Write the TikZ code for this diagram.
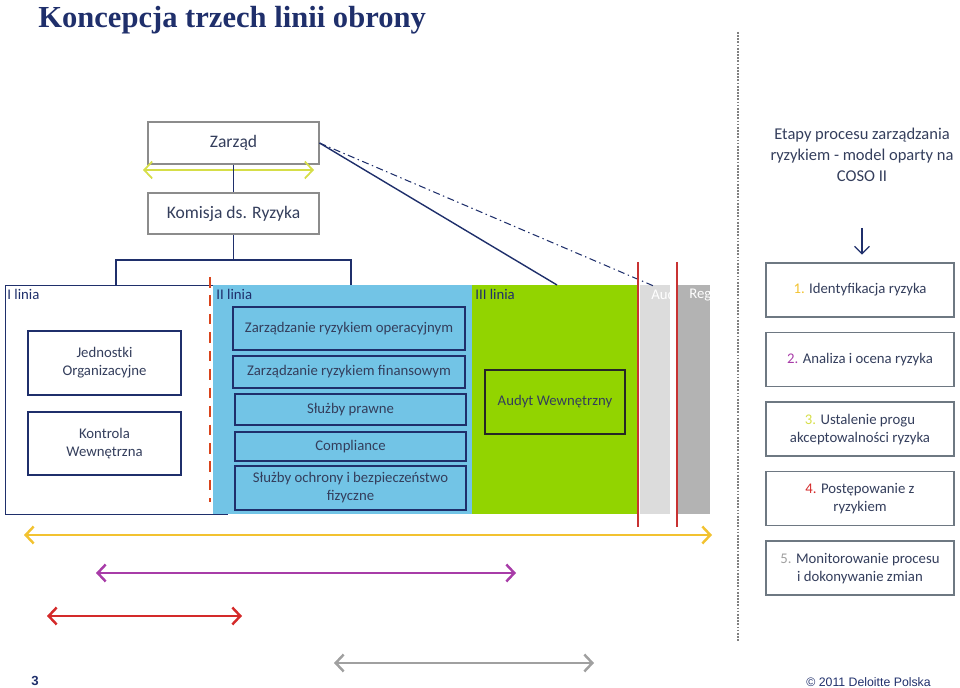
\documentclass[tikz,border=0pt]{standalone}
\usepackage{fontspec}
\setmainfont{Carlito}
\newfontfamily\titlefont{Liberation Serif}
\newfontfamily\footfont{Liberation Sans}
\usetikzlibrary{arrows.meta,positioning}
\definecolor{navy}{HTML}{1F2F6B}
\definecolor{ink}{HTML}{343E5C}
\definecolor{boxgray}{HTML}{8C8C8C}
\definecolor{stagegray}{HTML}{6E7882}
\definecolor{lineblue}{HTML}{72C4E6}
\definecolor{linegreen}{HTML}{92D400}
\definecolor{paleg}{HTML}{DCDCDC}
\definecolor{darkg}{HTML}{B3B3B3}
\definecolor{cutred}{HTML}{C83232}
\definecolor{dashred}{HTML}{D9441C}
\definecolor{cyel}{HTML}{F2C230}
\definecolor{cmag}{HTML}{A83CA8}
\definecolor{cred}{HTML}{D42A2A}
\definecolor{cgray}{HTML}{A0A0A0}
\definecolor{clime}{HTML}{D6DE48}

\begin{document}
\begin{tikzpicture}[
  x=0.02cm, y=-0.02cm,
  font=\fontsize{8.4}{10.2}\selectfont, text=ink,
  node distance=2.8mm,
  box/.style={draw=navy, line width=1.1pt, align=center, inner sep=1pt},
  grbox/.style={draw=boxgray, fill=white, line width=0.6pt, align=center,
                minimum width=3.42cm, inner sep=1pt},
  stage/.style={draw=stagegray, line width=0.9pt, minimum width=3.76cm,
                minimum height=1.08cm, align=center, inner sep=1pt},
  band/.style={anchor=north west, inner sep=0pt, minimum height=4.58cm},
  lbl/.style={anchor=north west, inner sep=0pt, text=navy},
  link/.style={draw=navy, line width=0.8pt},
  span/.style={line width=1.4pt,
               {Straight Barb[length=1.6mm,width=3.4mm]}-{Straight Barb[length=1.6mm,width=3.4mm]}}
]
  \useasboundingbox (0,0) rectangle (960,688);

  \node[anchor=base west, inner sep=0pt, text=navy,
        font=\titlefont\bfseries\fontsize{17.4}{20}\selectfont] (title) at (38,28)
    {Koncepcja trzech linii obrony};

  \node[grbox, minimum height=0.84cm, font=\fontsize{10}{12}\selectfont] (board) at (233.5,143) {Zarząd};
  \node[grbox, minimum height=0.82cm, font=\fontsize{10}{12}\selectfont] (committee) at (233.5,213.5) {Komisja ds. Ryzyka};
  \coordinate (boardL) at (143,170);
  \coordinate (boardR) at (314,170);
  \draw[span, draw=clime, line width=1pt] (boardL) -- (boardR);
  \draw[link] (board.south) -- (committee.north);

  \node[band, draw=navy, line width=0.8pt, fill=white, minimum width=4.44cm] (first) at (5,285) {};
  \node[band, fill=lineblue, minimum width=5.18cm] (second) at (213,285) {};
  \node[band, fill=linegreen, minimum width=3.32cm] (third) at (472,285) {};
  \node[band, fill=paleg, minimum width=0.6cm] (ext) at (640,285) {};
  \node[band, fill=darkg, minimum width=0.66cm] (reg) at (677,285) {};

  \coordinate (fork) at (233.5,260);
  \coordinate (forkL) at (116,285);
  \coordinate (forkR) at (351,285);
  \draw[link] (committee.south) -- (fork) -| (forkL);
  \draw[link] (fork) -| (forkR);

  \coordinate (auditTop) at (557,285);
  \coordinate (extTop) at (656,287);
  \draw[link] (board.east) -- (auditTop);
  \draw[link, line width=0.6pt, dash pattern=on 4pt off 2pt on 0.8pt off 2pt] (board.east) -- (extTop);

  \node[lbl] (l1) at (7,289) {I linia};
  \node[lbl] (l2) at (216,289) {II linia};
  \node[lbl] (l3) at (475,289) {III linia};
  \node[lbl, text=white] (l4) at (651,289) {Aud};
  \node[lbl, text=white] (l5) at (689,289) {Reg};

  \node[box, minimum width=3.06cm, minimum height=1.28cm] (units) at (104.5,363) {Jednostki\\Organizacyjne};
  \node[box, minimum width=3.06cm, minimum height=1.26cm] (control) at (104.5,443.5) {Kontrola\\Wewnętrzna};

  \node[box, minimum width=4.64cm, minimum height=0.86cm] (oprisk) at (349,328.5) {Zarządzanie ryzykiem operacyjnym};
  \node[box, minimum width=4.64cm, minimum height=0.64cm] (finrisk) at (349,372) {Zarządzanie ryzykiem finansowym};
  \node[box, minimum width=4.62cm, minimum height=0.62cm] (legal) at (350.5,409.5) {Służby prawne};
  \node[box, minimum width=4.62cm, minimum height=0.58cm] (compl) at (350.5,446.5) {Compliance};
  \node[box, minimum width=4.62cm, minimum height=0.88cm] (security) at (350.5,488) {Służby ochrony i bezpieczeństwo\\fizyczne};

  \node[box, draw=black!85, minimum width=2.8cm, minimum height=1.28cm] (audit) at (555,402) {Audyt Wewnętrzny};

  \coordinate (dashT) at (210,277);
  \coordinate (dashB) at (210,502);
  \draw[dashred, line width=1.7pt, dash pattern=on 6pt off 4.5pt] (dashT) -- (dashB);
  \coordinate (cut1T) at (638,262);
  \coordinate (cut1B) at (638,527);
  \coordinate (cut2T) at (677,262);
  \coordinate (cut2B) at (677,527);
  \draw[cutred, line width=0.6pt] (cut1T) -- (cut1B);
  \draw[cutred, line width=0.6pt] (cut2T) -- (cut2B);

  \coordinate (sepT) at (738,32);
  \coordinate (sepB) at (738,642);
  \draw[gray, line width=0.9pt, dash pattern=on 1pt off 0.8pt] (sepT) -- (sepB);

  \node[align=center, font=\fontsize{9.4}{11.9}\selectfont] (stages) at (862,155)
    {Etapy procesu zarządzania\\ryzykiem - model oparty na\\COSO II};
  \coordinate (down) at (862,228);
  \node[stage] (s1) at (860,290) {\textcolor{cyel}{1.} Identyfikacja ryzyka};
  \node[stage, below=of s1] (s2) {\textcolor{cmag}{2.} Analiza i ocena ryzyka};
  \node[stage, below=of s2] (s3) {\textcolor{clime}{3.} Ustalenie progu\\akceptowalności ryzyka};
  \node[stage, below=of s3] (s4) {\textcolor{cred}{4.} Postępowanie z\\ryzykiem};
  \node[stage, below=of s4] (s5) {\textcolor{cgray}{5.} Monitorowanie procesu\\i dokonywanie zmian};
  \draw[navy, line width=0.7pt, -{Straight Barb[length=1.5mm,width=3mm]}] (down) -- ([yshift=1.5mm]s1.north -| down);

  \coordinate (yelL) at (24,535);
  \coordinate (yelR) at (712,535);
  \coordinate (magL) at (96,573);
  \coordinate (magR) at (516,573);
  \coordinate (redL) at (47,616);
  \coordinate (redR) at (242,616);
  \coordinate (grayL) at (334,663);
  \coordinate (grayR) at (594,663);
  \draw[span, draw=cyel] (yelL) -- (yelR);
  \draw[span, draw=cmag] (magL) -- (magR);
  \draw[span, draw=cred] (redL) -- (redR);
  \draw[span, draw=cgray] (grayL) -- (grayR);

  \node[anchor=base west, inner sep=0pt, text=navy, font=\footfont\bfseries\fontsize{7.5}{9}\selectfont] (page) at (31,685) {3};
  \node[anchor=base west, inner sep=0pt, text=navy, font=\footfont\fontsize{7}{9}\selectfont] (copy) at (806,686) {© 2011 Deloitte Polska};
\end{tikzpicture}
\end{document}
